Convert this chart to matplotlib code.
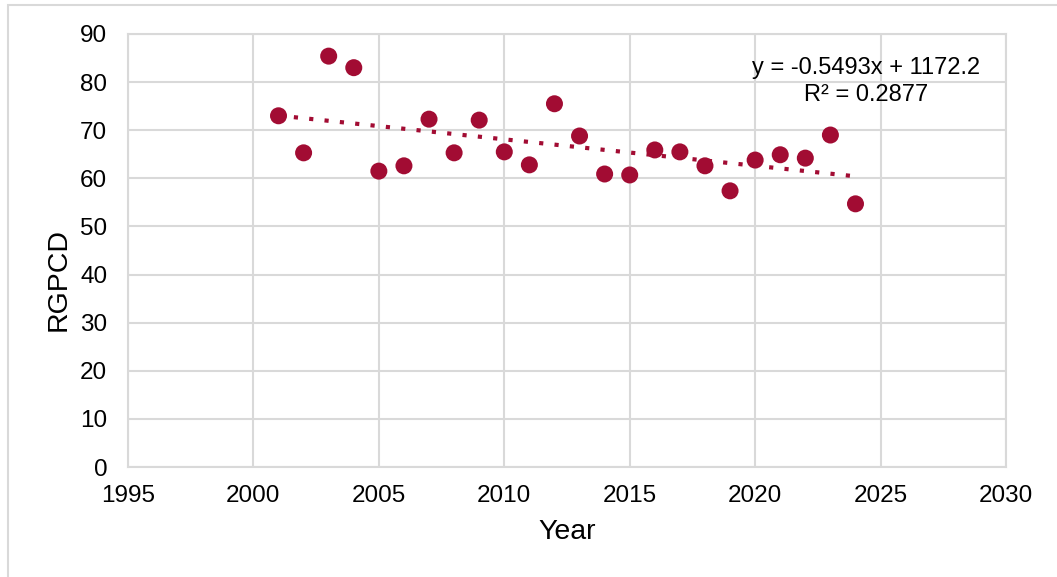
import matplotlib
matplotlib.use("Agg")
import matplotlib.pyplot as plt
from matplotlib.patches import Rectangle

plt.rcParams['font.family'] = ['Liberation Sans', 'DejaVu Sans']

# ─── Data ─────────────────────────────────────────────────
years = [2001, 2002, 2003, 2004, 2005, 2006, 2007, 2008, 2009, 2010, 2011, 2012,
         2013, 2014, 2015, 2016, 2017, 2018, 2019, 2020, 2021, 2022, 2023, 2024]
rgpcd = [73.0, 65.3, 85.4, 83.0, 61.5, 62.6, 72.3, 65.3, 72.1, 65.5, 62.8, 75.5,
         68.8, 60.9, 60.7, 65.9, 65.5, 62.6, 57.4, 63.8, 64.9, 64.2, 69.0, 54.7]
slope, intercept = -0.5493, 1172.2
r2 = 0.2877

cor = '#A20C33'
grade = '#D9D9D9'

fig = plt.figure(figsize=(10.57, 5.77), dpi=100)
ax = fig.add_axes([128/1057, 1 - 467/577, 878/1057, 433/577])

# moldura do gráfico
fig.patches.append(Rectangle((8/1057, -0.1), 1.2, 1 - 5/577 + 0.1,
                             transform=fig.transFigure, fill=False,
                             edgecolor=grade, lw=1.5, clip_on=False))

# linha de tendência
tx = [years[0], years[-1]]
ty = [slope * t + intercept for t in tx]
ax.plot(tx, ty, color=cor, lw=3, linestyle=(0, (1, 2.7)),
        dash_capstyle='butt', zorder=2)

ax.scatter(years, rgpcd, s=150, color=cor, edgecolors='none', zorder=3)

ax.text(866/1057, 1 - 68/577, f'y = {slope}x + {intercept}',
        transform=fig.transFigure, ha='center', va='center', fontsize=17)
ax.text(866/1057, 1 - 95/577, f'R² = {r2}',
        transform=fig.transFigure, ha='center', va='center', fontsize=17)

ax.set_xlim(1995, 2030)
ax.set_ylim(0, 90)
ax.set_xticks(range(1995, 2031, 5))
ax.set_yticks(range(0, 91, 10))
ax.grid(True, color=grade, lw=1.5)
ax.set_axisbelow(True)
for s in ax.spines.values():
    s.set_color(grade)
    s.set_linewidth(1.5)
ax.tick_params(length=0, labelsize=17.5)
ax.tick_params(axis='y', pad=15)
ax.tick_params(axis='x', pad=13)

ax.set_xlabel('Year', fontsize=20.5)
ax.set_ylabel('RGPCD', fontsize=20.5)
ax.xaxis.set_label_coords(0.5, -0.12)
ax.yaxis.set_label_coords(-0.064, 0.432)

plt.savefig('out.png', dpi=100)
